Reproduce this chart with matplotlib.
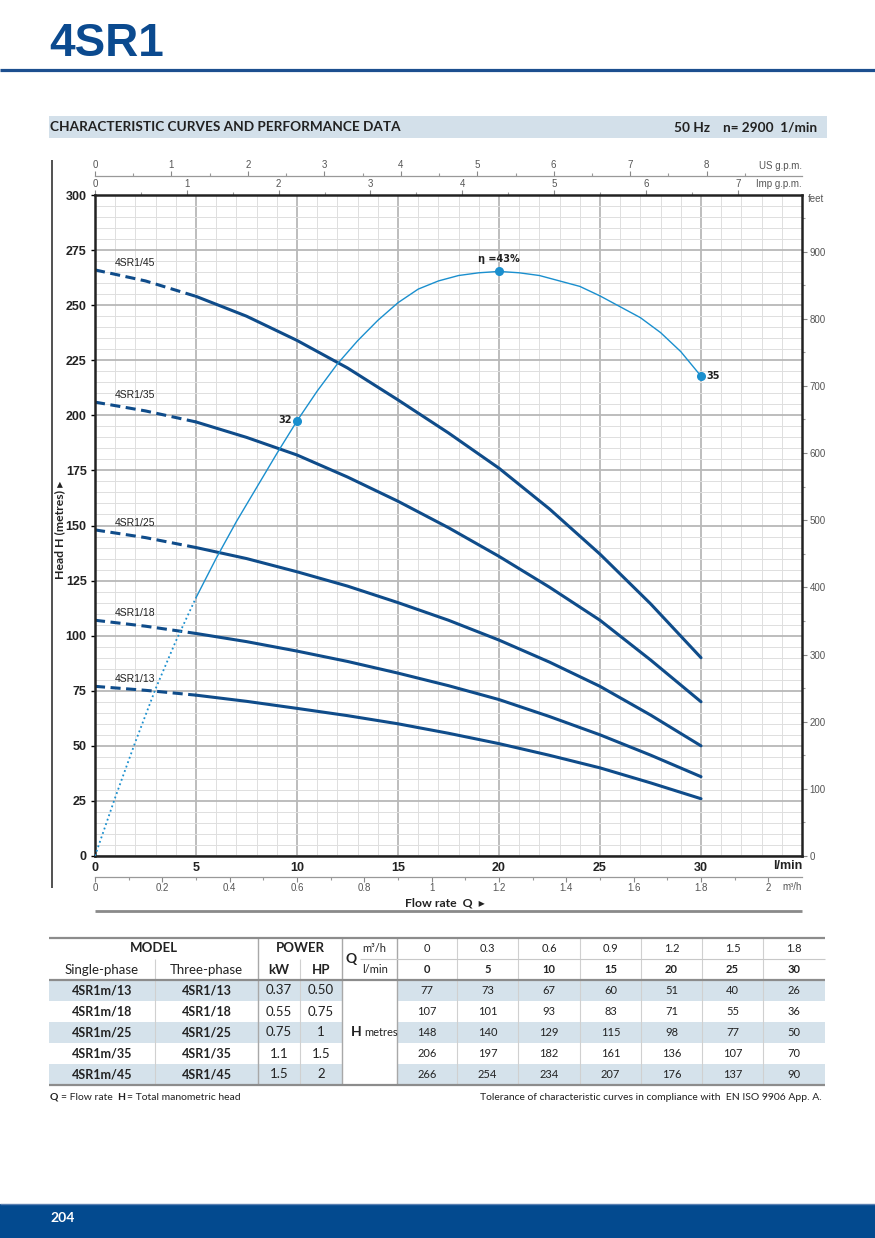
import matplotlib
matplotlib.use("Agg")
import matplotlib.pyplot as plt
from matplotlib.ticker import MultipleLocator, FixedLocator
from matplotlib.patches import Rectangle

W, H = 875, 1238
NARROW = ['Liberation Sans Narrow', 'Liberation Sans', 'DejaVu Sans']
SANS = ['Lato', 'DejaVu Sans']
BLUE = '#0b4a8f'
CURVE_C = '#0f4c8a'
ETA_C = '#1a8fce'

flow = [0, 2.5, 5, 7.5, 10, 12.5, 15, 17.5, 20, 22.5, 25, 27.5, 30]   # l/min
h_13 = [77, 75.2, 73, 70.2, 67, 63.7, 60, 55.7, 51, 45.7, 40, 33.2, 26]
h_18 = [107, 104.3, 101, 97.3, 93, 88.3, 83, 77.3, 71, 63.3, 55, 45.8, 36]
h_25 = [148, 144.5, 140, 135, 129, 122.5, 115, 107, 98, 88, 77, 64, 50]
h_35 = [206, 202, 197, 190, 182, 172, 161, 149, 136, 122, 107, 89, 70]
h_45 = [266, 261, 254, 245, 234, 221.5, 207, 192, 176, 157.5, 137, 114.5, 90]
curves = [h_13, h_18, h_25, h_35, h_45]

models_3ph = ['4SR1/13', '4SR1/18', '4SR1/25', '4SR1/35', '4SR1/45']
models_1ph = ['4SR1m/13', '4SR1m/18', '4SR1m/25', '4SR1m/35', '4SR1m/45']
power_kw = ['0.37', '0.55', '0.75', '1.1', '1.5']
power_hp = ['0.50', '0.75', '1', '1.5', '2']
q_m3h = ['0', '0.3', '0.6', '0.9', '1.2', '1.5', '1.8']
q_lmin = ['0', '5', '10', '15', '20', '25', '30']

eta_flow = list(range(31))
eta_pct = [0, 4.3, 8.4, 12.3, 15.8, 19.0, 21.9, 24.6, 27.1, 29.6, 32.0,
           34.2, 36.2, 37.9, 39.4, 40.7, 41.7, 42.3, 42.7, 42.9, 43.0,
           42.9, 42.7, 42.3, 41.9, 41.2, 40.4, 39.6, 38.5, 37.1, 35.3]
eta_mark_flow = [10, 20, 30]
eta_mark_text = ['32', '\u03b7 =43%', '35']
ETA_SCALE = 6.17   # metres of head per % of efficiency on the chart

fig = plt.figure(figsize=(W / 100, H / 100), dpi=100)

# page layer in pixel coordinates
pg = fig.add_axes([0, 0, 1, 1])
pg.set_xlim(0, W)
pg.set_ylim(H, 0)
pg.axis('off')


def ptext(x, y, s, size=9, weight='normal', ha='left', color='#222', family=SANS, **kw):
    pg.text(x, y, s, fontsize=size, fontweight=weight, ha=ha, va='center',
            color=color, family=family, **kw)


def pline(x0, x1, y0, y1, color='#888', lw=1.0):
    pg.plot([x0, x1], [y0, y1], color=color, lw=lw, solid_capstyle='butt')


# header
ptext(49, 44, '4SR1', size=33, weight='bold', color=BLUE, family=NARROW)
pline(0, W, 70, 70, color='#1c4f8f', lw=2.3)
pg.add_patch(Rectangle((49, 116), 778, 22, color='#d3e0ea', lw=0))
ptext(50, 127, 'CHARACTERISTIC CURVES AND PERFORMANCE DATA', size=9.8, weight='bold')
ptext(817, 127, '50 Hz    n= 2900  1/min', size=9.8, weight='bold', ha='right')

# footer
pg.add_patch(Rectangle((0, 1204), W, 34, color='#034a8f', lw=0))
pline(0, W, 1204, 1204, color='#5a80b2', lw=1)
ptext(50, 1218, '204', size=10, weight='bold', color='white')

# chart frame extras
pline(52, 52, 160, 888, color='#333', lw=1.2)
pline(95, 802, 911, 911, color='#8a8a8a', lw=2)
pg.text(60, 530, 'Head H (metres) \u25b8', rotation=90, fontsize=8.8, fontweight='bold',
        ha='center', va='center', color='#222', family=SANS)
ptext(445, 903, 'Flow rate  Q  \u25b8', size=8.8, weight='bold', ha='center')
ptext(802, 866, 'l/min', size=9, weight='bold', ha='right', family=NARROW)
ptext(802, 166, 'US g.p.m.', size=7, ha='right', color='#555', family=NARROW)
ptext(802, 184, 'Imp g.p.m.', size=7, ha='right', color='#555', family=NARROW)
ptext(802, 887, 'm\u00b3/h', size=7, ha='right', color='#555', family=NARROW)
ptext(808, 199, 'feet', size=7, color='#555', family=NARROW)

# ---- main chart ----
ax = fig.add_axes([95 / W, 1 - 856 / H, (802 - 95) / W, (856 - 195) / H])
ax.set_xlim(0, 35)
ax.set_ylim(0, 300)
ax.xaxis.set_major_locator(FixedLocator([0, 5, 10, 15, 20, 25, 30]))
ax.xaxis.set_minor_locator(MultipleLocator(1))
ax.yaxis.set_major_locator(MultipleLocator(25))
ax.yaxis.set_minor_locator(MultipleLocator(5))
ax.grid(which='major', color='#b8b8b8', lw=1.3)
ax.grid(which='minor', color='#dedede', lw=0.7)
ax.set_axisbelow(True)
ax.yaxis.set_ticks_position('left')
ax.xaxis.set_ticks_position('bottom')
ax.tick_params(axis='x', which='both', length=0, pad=4, labelsize=9)
ax.tick_params(axis='y', which='major', length=3, width=1, pad=3, labelsize=9)
ax.tick_params(axis='y', which='minor', length=0)
for lbl in ax.get_xticklabels() + ax.get_yticklabels():
    lbl.set_fontweight('bold')
    lbl.set_family(NARROW)
    lbl.set_color('#222')
for s in ax.spines.values():
    s.set_color('#222')
    s.set_linewidth(1.8)

split = flow.index(5)
for name, h in zip(models_3ph, curves):
    ax.plot(flow[:split + 1], h[:split + 1], color=CURVE_C, lw=2.2,
            linestyle=(0, (3.3, 1.8)))
    ax.plot(flow[split:], h[split:], color=CURVE_C, lw=2.2,
            solid_capstyle='round', solid_joinstyle='round')
    ax.annotate(name, (flow[0], h[0]), xytext=(14, 5), textcoords='offset points',
                fontsize=7.5, family=NARROW, color='#222', va='center')

# efficiency curve on its own hidden scale
ax_eta = ax.twinx()
ax_eta.set_ylim(0, 300 / ETA_SCALE)
ax_eta.axis('off')
e_split = eta_flow.index(5)
ax_eta.plot(eta_flow[:e_split + 1], eta_pct[:e_split + 1], color=ETA_C, lw=1.3,
            linestyle=(0, (1, 1.6)))
ax_eta.plot(eta_flow[e_split:], eta_pct[e_split:], color=ETA_C, lw=1.0,
            solid_joinstyle='round')
mark_y = [eta_pct[eta_flow.index(q)] for q in eta_mark_flow]
ax_eta.plot(eta_mark_flow, mark_y, 'o', ms=5.5, color=ETA_C)
offsets = [(-4, 1, 'right'), (0, 9, 'center'), (4, 0, 'left')]
for q, y, txt, (dx, dy, ha) in zip(eta_mark_flow, mark_y, eta_mark_text, offsets):
    ax_eta.annotate(txt, (q, y), xytext=(dx, dy), textcoords='offset points',
                    ha=ha, va='center', fontsize=7, fontweight='bold', color='#222',
                    family=['DejaVu Sans'])

# secondary scales
def style_sec(sec, axis):
    sec.tick_params(axis=axis, which='major', direction='out', length=3.5, width=0.8,
                    color='#888', labelsize=7, labelcolor='#555', pad=1)
    sec.tick_params(axis=axis, which='minor', direction='out', length=2.5, width=0.8,
                    color='#999')
    for s in sec.spines.values():
        s.set_color('#999')
        s.set_linewidth(0.9)
    labels = sec.get_xticklabels() if axis == 'x' else sec.get_yticklabels()
    for lbl in labels:
        lbl.set_family(NARROW)


US_GPM = 3.785
IMP_GPM = 4.546
M3H = 16.667
FT = 3.28084

sec_us = ax.secondary_xaxis(1 + 19 / 661, functions=(lambda q: q / US_GPM, lambda g: g * US_GPM))
sec_us.set_xticks(list(range(9)))
sec_us.xaxis.set_minor_locator(FixedLocator([i + 0.5 for i in range(9)]))
style_sec(sec_us, 'x')

sec_imp = ax.secondary_xaxis('top', functions=(lambda q: q / IMP_GPM, lambda g: g * IMP_GPM))
sec_imp.set_xticks(list(range(8)))
sec_imp.xaxis.set_minor_locator(FixedLocator([i + 0.5 for i in range(7)]))
style_sec(sec_imp, 'x')
for s in sec_imp.spines.values():
    s.set_visible(False)

sec_m3 = ax.secondary_xaxis(-21 / 661, functions=(lambda q: q / M3H, lambda m: m * M3H))
sec_m3.set_xticks([i / 5 for i in range(11)])
sec_m3.set_xticklabels(['%g' % (i / 5) for i in range(11)])
sec_m3.xaxis.set_minor_locator(FixedLocator([i / 10 for i in range(1, 22, 2)]))
style_sec(sec_m3, 'x')

sec_ft = ax.secondary_yaxis('right', functions=(lambda m: m * FT, lambda f: f / FT))
sec_ft.set_yticks(list(range(0, 1000, 100)))
sec_ft.yaxis.set_minor_locator(FixedLocator(list(range(50, 1000, 100))))
style_sec(sec_ft, 'y')
sec_ft.tick_params(axis='y', pad=2)
for s in sec_ft.spines.values():
    s.set_visible(False)

# ---- table ----
col_x = [49, 155, 258, 300, 342, 397, 457, 518, 580, 641, 702, 763, 825]
row_y = [938, 959, 980, 1001, 1022, 1043, 1064, 1085]
SHADE = '#d5e2eb'

for i in range(0, len(models_3ph), 2):
    y0, y1 = row_y[2 + i], row_y[3 + i]
    pg.add_patch(Rectangle((col_x[0], y0), col_x[4] - col_x[0], y1 - y0, color=SHADE, lw=0))
    pg.add_patch(Rectangle((col_x[5], y0), col_x[-1] - col_x[5], y1 - y0, color=SHADE, lw=0))

for xv in col_x[6:-1]:
    pline(xv, xv, row_y[0], row_y[-1], color='#d0d0d0', lw=0.8)
for xv in (col_x[1], col_x[3]):
    pline(xv, xv, row_y[1], row_y[-1], color='#d0d0d0', lw=0.8)
for xv in (col_x[2], col_x[4], col_x[5]):
    pline(xv, xv, row_y[0], row_y[-1], color='#a8a8a8', lw=1.0)
pline(360, col_x[-1], row_y[1], row_y[1], color='#c8c8c8', lw=0.8)
for yv in (row_y[0], row_y[2], row_y[-1]):
    pline(col_x[0], col_x[-1], yv, yv, color='#8c8c8c', lw=1.6)


def cx(i):
    return (col_x[i] + col_x[i + 1]) / 2


def cy(j):
    return (row_y[j] + row_y[j + 1]) / 2


ptext((col_x[0] + col_x[2]) / 2, cy(0), 'MODEL', size=9.5, weight='bold', ha='center')
ptext((col_x[2] + col_x[4]) / 2, cy(0), 'POWER', size=9.5, weight='bold', ha='center')
ptext(cx(0), cy(1), 'Single-phase', size=9.5, ha='center')
ptext(cx(1), cy(1), 'Three-phase', size=9.5, ha='center')
ptext(cx(2), cy(1), 'kW', size=9.5, weight='bold', ha='center')
ptext(cx(3), cy(1), 'HP', size=9.5, weight='bold', ha='center')
ptext(346, row_y[1], 'Q', size=10, weight='bold')
ptext(374, cy(0), 'm\u00b3/h', size=8, ha='center')
ptext(375, cy(1), 'l/min', size=8, ha='center')
for k in range(len(q_m3h)):
    ptext(cx(5 + k), cy(0), q_m3h[k], size=8, ha='center')
    ptext(cx(5 + k), cy(1), q_lmin[k], size=8, weight='bold', ha='center')

for i in range(len(models_3ph)):
    r = 2 + i
    ptext(cx(0), cy(r), models_1ph[i], size=9, weight='bold', ha='center')
    ptext(cx(1), cy(r), models_3ph[i], size=9, weight='bold', ha='center')
    ptext(cx(2), cy(r), power_kw[i], size=9.5, ha='center')
    ptext(cx(3), cy(r), power_hp[i], size=9.5, ha='center')
    for k, v in enumerate(curves[i][::2]):
        ptext(cx(5 + k), cy(r), '%g' % v, size=8, ha='center')
ptext(351, cy(4), 'H', size=10, weight='bold')
ptext(364, cy(4), 'metres', size=8)

# footnotes
ptext(50, 1097, 'Q', size=7.5, weight='bold')
ptext(61, 1097, '= Flow rate', size=7.5)
ptext(117, 1097, 'H', size=7.5, weight='bold')
ptext(127, 1097, '= Total manometric head', size=7.5)
ptext(822, 1097, 'Tolerance of characteristic curves in compliance with  EN ISO 9906 App. A.',
      size=7.5, ha='right')

fig.savefig('out.png', dpi=100)
